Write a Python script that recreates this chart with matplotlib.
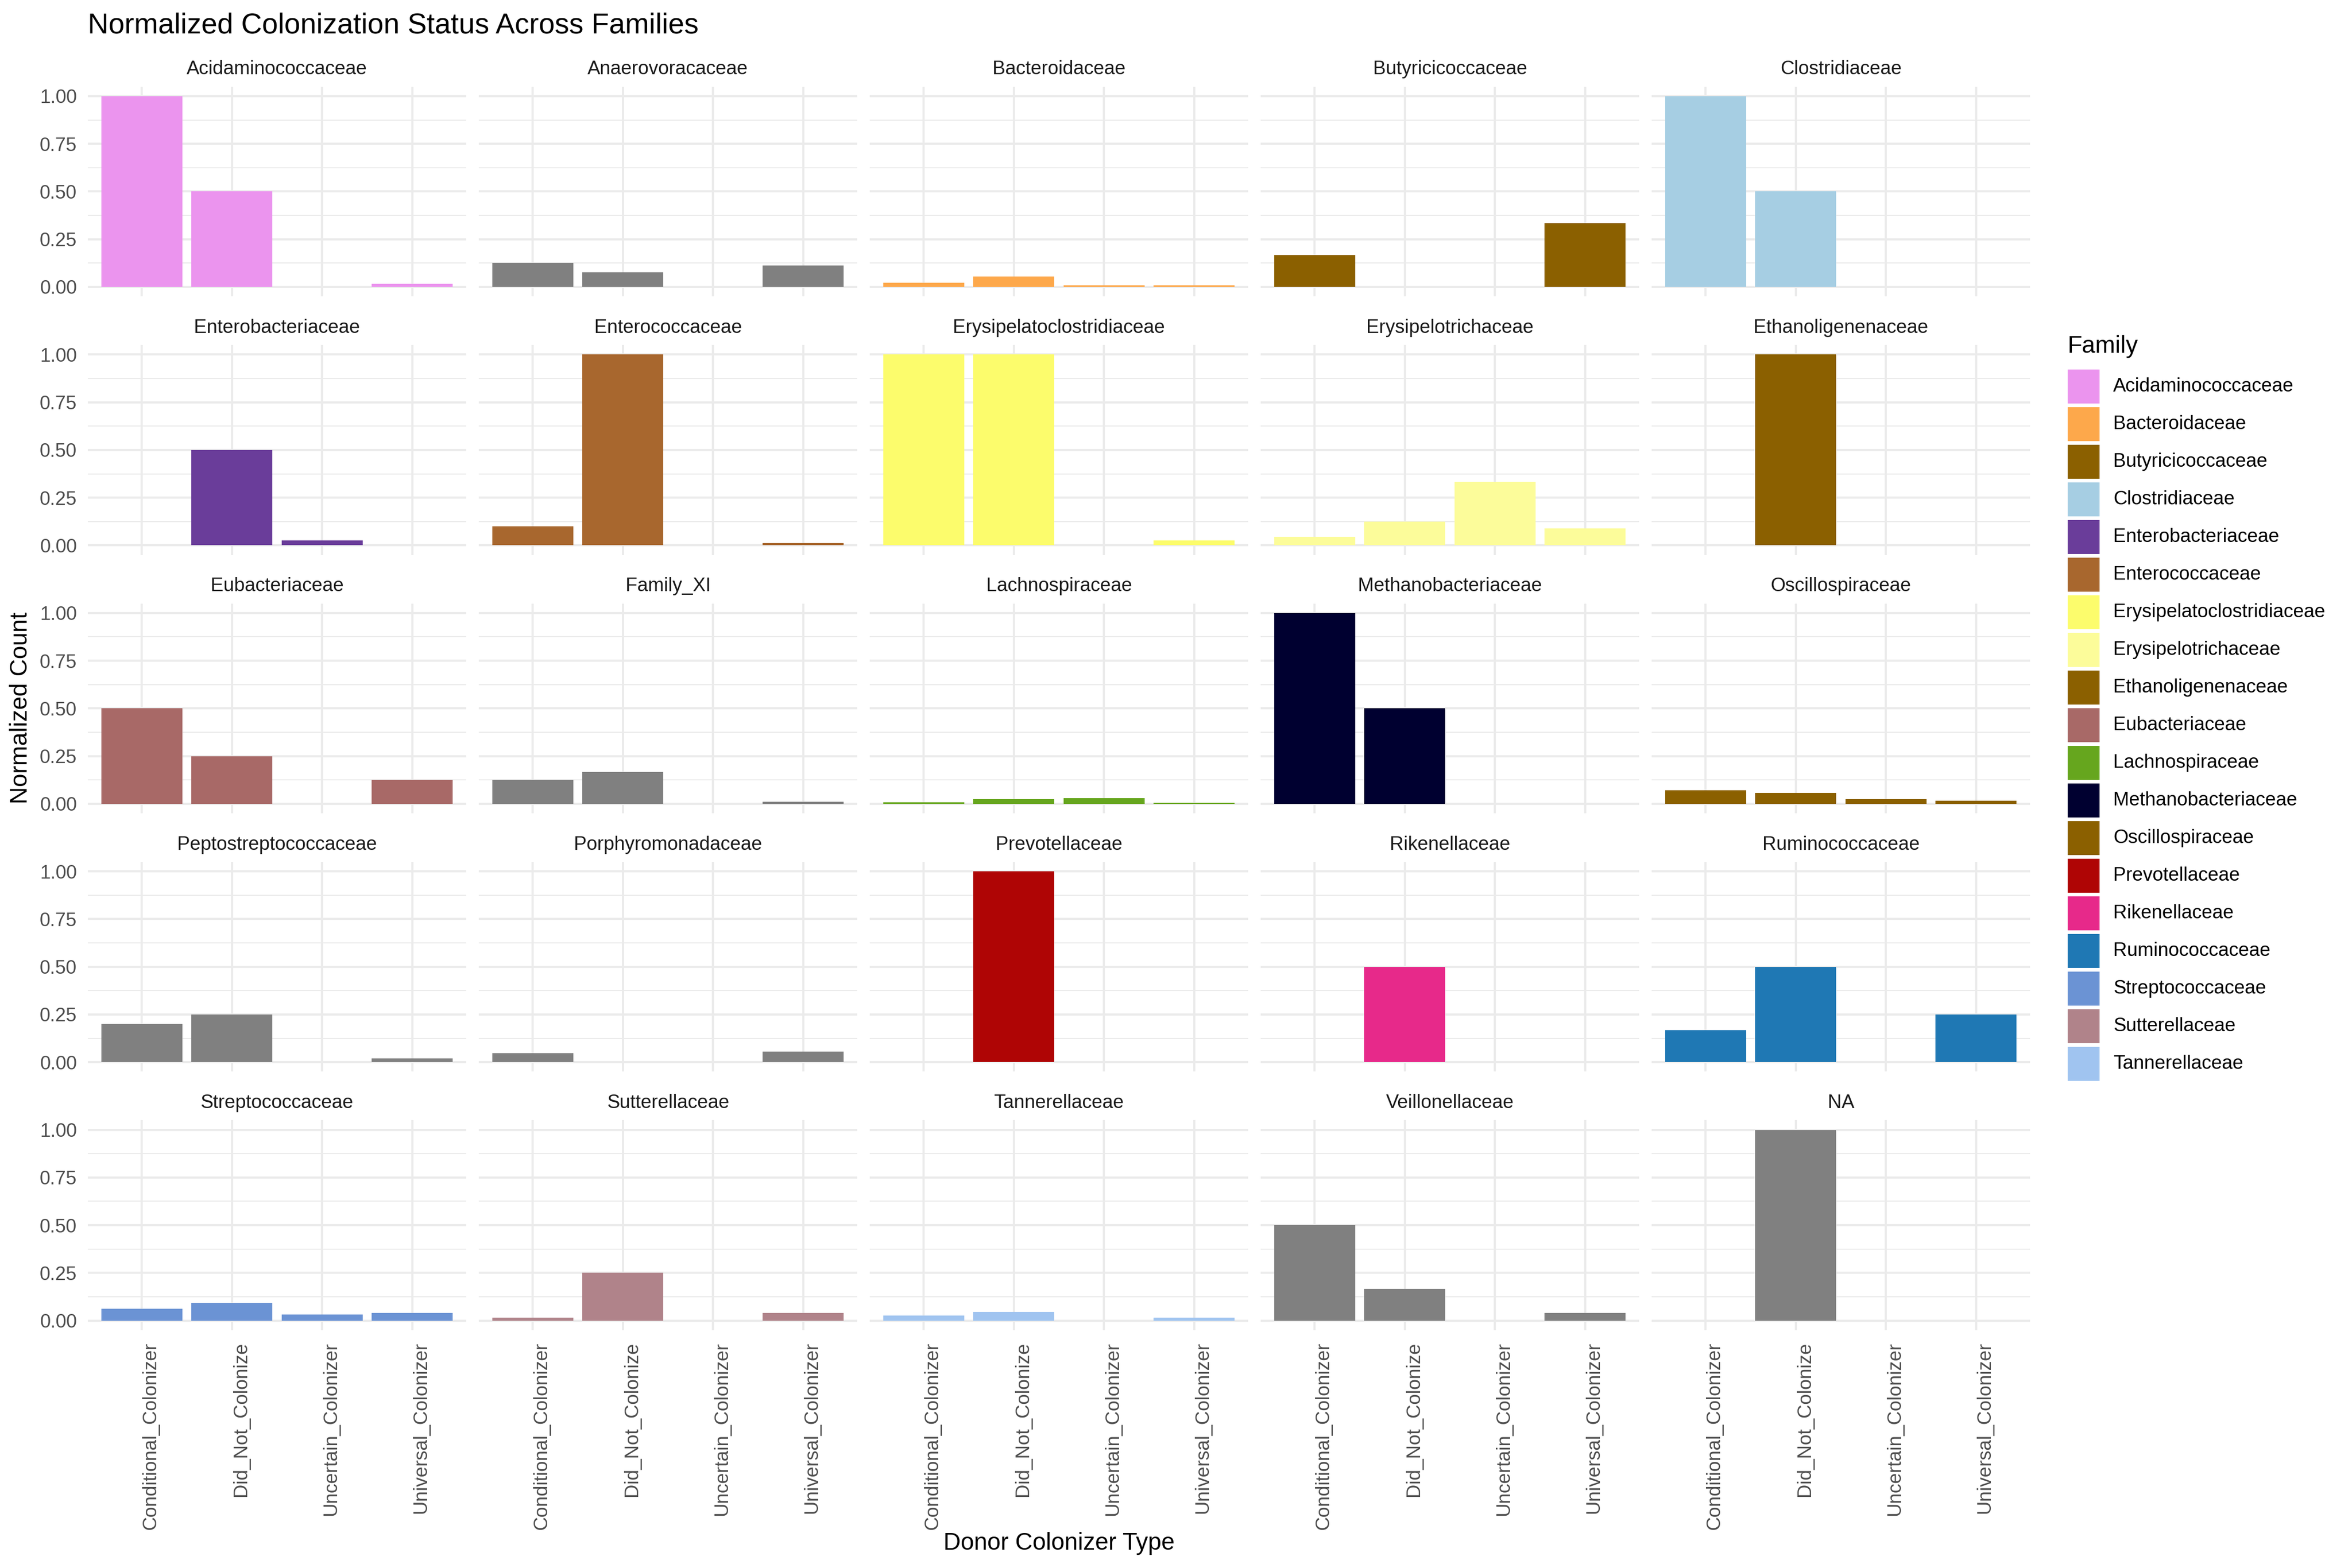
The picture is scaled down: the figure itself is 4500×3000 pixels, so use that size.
import numpy as np
import matplotlib
matplotlib.use("Agg")
import matplotlib.pyplot as plt
from matplotlib.patches import Rectangle

plt.rcParams['font.family'] = ['Liberation Sans', 'DejaVu Sans']

# Data
colonizer_types = ["Conditional_Colonizer", "Did_Not_Colonize",
                   "Uncertain_Colonizer", "Universal_Colonizer"]

families = ["Acidaminococcaceae", "Anaerovoracaceae", "Bacteroidaceae", "Butyricicoccaceae",
            "Clostridiaceae", "Enterobacteriaceae", "Enterococcaceae",
            "Erysipelatoclostridiaceae", "Erysipelotrichaceae", "Ethanoligenenaceae",
            "Eubacteriaceae", "Family_XI", "Lachnospiraceae", "Methanobacteriaceae",
            "Oscillospiraceae", "Peptostreptococcaceae", "Porphyromonadaceae",
            "Prevotellaceae", "Rikenellaceae", "Ruminococcaceae", "Streptococcaceae",
            "Sutterellaceae", "Tannerellaceae", "Veillonellaceae", "NA"]

conditional = [1.0, 0.125, 0.023, 0.167, 1.0, 0, 0.10, 1.0, 0.046, 0,
               0.5, 0.125, 0.009, 1.0, 0.072, 0.20, 0.047, 0, 0, 0.167,
               0.061, 0.015, 0.026, 0.5, 0]
did_not = [0.5, 0.077, 0.054, 0, 0.5, 0.5, 1.0, 1.0, 0.125, 1.0,
           0.25, 0.167, 0.023, 0.5, 0.056, 0.25, 0, 1.0, 0.5, 0.5,
           0.091, 0.25, 0.045, 0.167, 1.0]
uncertain = [0, 0, 0.008, 0, 0, 0.025, 0, 0, 0.333, 0,
             0, 0, 0.030, 0, 0.023, 0, 0, 0, 0, 0,
             0.031, 0, 0, 0, 0]
universal = [0.017, 0.111, 0.008, 0.333, 0, 0, 0.012, 0.025, 0.09, 0,
             0.125, 0.010, 0.004, 0, 0.017, 0.021, 0.056, 0, 0, 0.25,
             0.041, 0.041, 0.015, 0.040, 0]

legend_families = ["Acidaminococcaceae", "Bacteroidaceae", "Butyricicoccaceae", "Clostridiaceae",
                   "Enterobacteriaceae", "Enterococcaceae", "Erysipelatoclostridiaceae",
                   "Erysipelotrichaceae", "Ethanoligenenaceae", "Eubacteriaceae",
                   "Lachnospiraceae", "Methanobacteriaceae", "Oscillospiraceae",
                   "Prevotellaceae", "Rikenellaceae", "Ruminococcaceae",
                   "Streptococcaceae", "Sutterellaceae", "Tannerellaceae"]
legend_colors = ["#EB94EE", "#FDA84B", "#8B6000", "#A6CEE3", "#6A3D9A", "#A8672E",
                 "#FCFC6C", "#FCFC9A", "#8B6000", "#A86967", "#66A61E", "#000030",
                 "#8B6000", "#AF0505", "#E7298A", "#1F78B4", "#6B93D4", "#B0838A",
                 "#A0C4F0"]
na_color = "#808080"

yticks = [0, 0.25, 0.5, 0.75, 1.0]
ytick_labels = ["0.00", "0.25", "0.50", "0.75", "1.00"]

W, H = 4500, 3000
fig = plt.figure(figsize=(15, 10), dpi=300)

# panel layout (pixels)
left0, col_pitch, pw = 168, 748, 724
top0, row_pitch, ph = 165.75, 494.4, 401.5

color_of = dict(zip(legend_families, legend_colors))
grid_c = "#EBEBEB"
tick_c = "#4D4D4D"

for i, fam in enumerate(families):
    r, c = divmod(i, 5)
    x0 = left0 + c * col_pitch
    y0 = top0 + r * row_pitch
    ax = fig.add_axes([x0 / W, 1 - (y0 + ph) / H, pw / W, ph / H])
    vals = [conditional[i], did_not[i], uncertain[i], universal[i]]
    ax.bar(range(4), vals, width=0.9, color=color_of.get(fam, na_color), linewidth=0, zorder=3)
    ax.set_xlim(-0.6, 3.6)
    ax.set_ylim(-0.05, 1.05)
    ax.set_xticks(range(4))
    ax.set_yticks(yticks)
    ax.set_yticks([0.125, 0.375, 0.625, 0.875], minor=True)
    ax.grid(which='major', color=grid_c, linewidth=1.0, zorder=0)
    ax.grid(which='minor', axis='y', color=grid_c, linewidth=0.5, zorder=0)
    for s in ax.spines.values():
        s.set_visible(False)
    ax.tick_params(which='both', length=0)
    ax.tick_params(axis='y', pad=5, labelsize=8.8, labelcolor=tick_c)
    ax.tick_params(axis='x', pad=5.5, labelsize=8.8, labelcolor=tick_c)
    if c == 0:
        ax.set_yticklabels(ytick_labels)
    else:
        ax.set_yticklabels([])
    if r == 4:
        ax.set_xticklabels(colonizer_types, rotation=90, ha='left')
    else:
        ax.set_xticklabels([])
    ax.annotate(fam, xy=(0.5, 1), xycoords='axes fraction', xytext=(0, 7.9),
                textcoords='offset points', ha='center', va='center',
                fontsize=8.8, color="#1A1A1A")

# titles
fig.text(168 / W, 1 - 64 / H, "Normalized Colonization Status Across Families",
         fontsize=13.2, ha='left', va='baseline')
fig.text(40 / W, 1 - 1355 / H, "Normalized Count", rotation=90,
         fontsize=11, ha='center', va='center')
fig.text(2026 / W, 1 - 2953 / H, "Donor Colonizer Type",
         fontsize=11, ha='center', va='center')

# legend
lax = fig.add_axes([3900 / W, 1 - 2150 / H, 600 / W, 1550 / H])
lax.set_xlim(3900, 4500)
lax.set_ylim(2150, 600)
lax.axis('off')
lax.text(3955, 663, "Family", fontsize=11, ha='left', va='center')
key_top, key_pitch, key_h = 707, 72, 65
for k, (name, col) in enumerate(zip(legend_families, legend_colors)):
    yk = key_top + k * key_pitch
    lax.add_patch(Rectangle((3956, yk), 61, key_h, facecolor=col, edgecolor='none'))
    lax.text(4043, yk + key_h / 2, name, fontsize=8.8, ha='left', va='center')

fig.savefig("out.png", dpi=300)
